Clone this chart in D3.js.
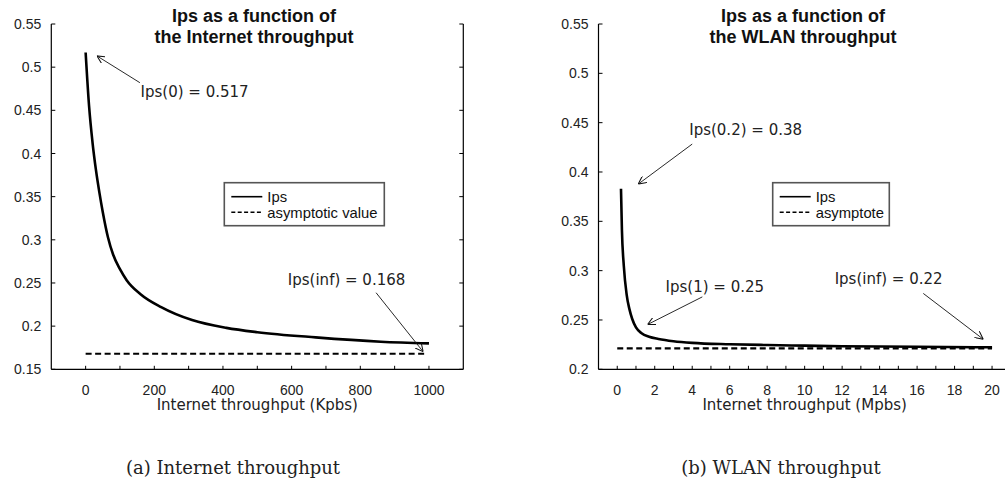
<!DOCTYPE html>
<html>
<head>
<meta charset="utf-8">
<script src="https://cdn.jsdelivr.net/npm/d3@7"></script>
<style>
  body { margin: 0; background: #fff; }
  svg { display: block; }
</style>
</head>
<body>
<div id="chart"></div>
<script>
// Width and height
const WIDTH = 1005;
const HEIGHT = 482;

// Data: (a) Internet throughput, Kbps
const internetX = [0, 10, 20, 30, 40, 50, 65, 80, 100, 120, 160, 220, 310, 410, 500, 670, 860, 1000];
const internetIps = [0.517, 0.455, 0.413, 0.381, 0.355, 0.332, 0.303, 0.283, 0.266, 0.253, 0.237, 0.222, 0.207, 0.198, 0.193, 0.187, 0.182, 0.18];
const internetAsymptote = 0.168;
const internetAsymX = [0, 990];

// (b) WLAN throughput, Mbps
const wlanX = [0.2, 0.25, 0.35, 0.5, 0.65, 0.8, 1.0, 1.3, 1.7, 2.2, 3, 4, 6, 8, 10, 12, 16, 20];
const wlanIps = [0.383, 0.341, 0.305, 0.276, 0.261, 0.251, 0.2425, 0.2365, 0.233, 0.2308, 0.2285, 0.2268, 0.2254, 0.2246, 0.224, 0.2234, 0.2228, 0.2223];
const wlanAsymptote = 0.2213;
const wlanAsymX = [0, 20];

// Tick values
const internetXTicks = d3.range(0, 1001, 100);
const internetXLabels = [0, 200, 400, 600, 800, 1000];
const internetYTicks = [0.15, 0.2, 0.25, 0.3, 0.35, 0.4, 0.45, 0.5, 0.55];
const wlanXTicks = d3.range(0, 21, 1);
const wlanXLabels = [0, 2, 4, 6, 8, 10, 12, 14, 16, 18, 20];
const wlanYTicks = [0.2, 0.25, 0.3, 0.35, 0.4, 0.45, 0.5, 0.55];

// Annotations (data units): text anchor, arrow from, arrow to
const internetNotes = [
  { text: "Ips(0) = 0.517", tx: 160, ty: 0.466, x1: 158, y1: 0.482, x2: 33, y2: 0.513 },
  { text: "Ips(inf) = 0.168", tx: 589, ty: 0.248, x1: 846, y1: 0.2387, x2: 983, y2: 0.1704 }
];
const wlanNotes = [
  { text: "Ips(0.2) = 0.38", tx: 3.84, ty: 0.4374, x1: 4.0, y1: 0.4283, x2: 1.12, y2: 0.3877 },
  { text: "Ips(1) = 0.25", tx: 2.58, ty: 0.2779, x1: 4.54, y1: 0.2734, x2: 1.62, y2: 0.2454 },
  { text: "Ips(inf) = 0.22", tx: 11.6, ty: 0.286, x1: 16.33, y1: 0.2769, x2: 19.53, y2: 0.2305 }
];

const panels = [
  {
    title: ["Ips as a function of", "the Internet throughput"],
    xLabel: "Internet throughput (Kpbs)",
    caption: "(a) Internet throughput",
    xDomain: [-100, 1100], xRange: [51.3, 463.3],
    yDomain: [0.15, 0.55],
    xs: internetX, ys: internetIps,
    asym: internetAsymptote, asymX: internetAsymX,
    xTicks: internetXTicks, xLabels: internetXLabels, yTicks: internetYTicks,
    yFmt: d3.format("~g"),
    notes: internetNotes,
    rightAxis: true,
    legend: { x: 224.3, y: 182.7, w: 160, h: 43, labels: ["Ips", "asymptotic value"] },
    titleX: 254, captionX: 233
  },
  {
    title: ["Ips as a function of", "the WLAN throughput"],
    xLabel: "Internet throughput (Mpbs)",
    caption: "(b) WLAN throughput",
    xDomain: [-1, 21], xRange: [598.5, 1010.8],
    yDomain: [0.2, 0.55],
    xs: wlanX, ys: wlanIps,
    asym: wlanAsymptote, asymX: wlanAsymX,
    xTicks: wlanXTicks, xLabels: wlanXLabels, yTicks: wlanYTicks,
    yFmt: d3.format("~g"),
    notes: wlanNotes,
    rightAxis: false,
    legend: { x: 772.7, y: 182.7, w: 116.6, h: 43, labels: ["Ips", "asymptote"] },
    titleX: 803, captionX: 781
  }
];

const TOP = 24;
const BOTTOM = 369.3;
const SANS = "'Liberation Sans', Arial, Helvetica, sans-serif";
const DEJAVU = "'DejaVu Sans', Verdana, sans-serif";

// SVG
const svg = d3
  .select("#chart")
  .append("svg")
  .attr("width", WIDTH)
  .attr("height", HEIGHT);

svg.append("defs")
  .append("marker")
  .attr("id", "arrow")
  .attr("viewBox", "0 0 10 10")
  .attr("refX", 10)
  .attr("refY", 5)
  .attr("markerWidth", 8)
  .attr("markerHeight", 8)
  .attr("markerUnits", "userSpaceOnUse")
  .attr("orient", "auto")
  .append("path")
  .attr("d", "M0,0 L10,5 L0,10")
  .attr("fill", "none")
  .attr("stroke", "#111")
  .attr("stroke-width", 1.3);

panels.forEach((p) => {
  const x = d3.scaleLinear().domain(p.xDomain).range(p.xRange);
  const y = d3.scaleLinear().domain(p.yDomain).range([BOTTOM, TOP]);
  const g = svg.append("g");
  const x0 = p.xRange[0];
  const x1 = p.xRange[1];

  // Axis lines
  g.append("line")
    .attr("x1", x0).attr("x2", x0).attr("y1", TOP).attr("y2", BOTTOM)
    .attr("stroke", "#000").attr("stroke-width", 1.2);
  g.append("line")
    .attr("x1", x0).attr("x2", x1).attr("y1", BOTTOM).attr("y2", BOTTOM)
    .attr("stroke", "#000").attr("stroke-width", 1.2);
  if (p.rightAxis) {
    g.append("line")
      .attr("x1", x1).attr("x2", x1).attr("y1", TOP).attr("y2", BOTTOM)
      .attr("stroke", "#000").attr("stroke-width", 1.2);
  }

  // Y ticks (inward) and labels
  g.selectAll(".yt")
    .data(p.yTicks)
    .enter()
    .append("line")
    .attr("x1", x0).attr("x2", x0 + 4)
    .attr("y1", (d) => y(d)).attr("y2", (d) => y(d))
    .attr("stroke", "#000");
  if (p.rightAxis) {
    g.selectAll(".yr")
      .data(p.yTicks)
      .enter()
      .append("line")
      .attr("x1", x1).attr("x2", x1 - 4)
      .attr("y1", (d) => y(d)).attr("y2", (d) => y(d))
      .attr("stroke", "#000");
  }
  g.selectAll(".yl")
    .data(p.yTicks)
    .enter()
    .append("text")
    .attr("x", x0 - 10)
    .attr("y", (d) => y(d))
    .attr("dy", "0.36em")
    .attr("text-anchor", "end")
    .style("font-family", SANS)
    .style("font-size", "14px")
    .attr("fill", "#222")
    .text((d) => p.yFmt(d));

  // X ticks (inward) and labels
  g.selectAll(".xt")
    .data(p.xTicks)
    .enter()
    .append("line")
    .attr("x1", (d) => x(d)).attr("x2", (d) => x(d))
    .attr("y1", BOTTOM).attr("y2", BOTTOM - 3.5)
    .attr("stroke", "#000");
  g.selectAll(".xl")
    .data(p.xLabels)
    .enter()
    .append("text")
    .attr("x", (d) => x(d))
    .attr("y", 395)
    .attr("text-anchor", "middle")
    .style("font-family", SANS)
    .style("font-size", "14px")
    .attr("fill", "#222")
    .text((d) => d);

  // Axis label
  g.append("text")
    .attr("x", (x(p.xLabels[0]) + x(p.xLabels[p.xLabels.length - 1])) / 2)
    .attr("y", 410)
    .attr("text-anchor", "middle")
    .style("font-family", DEJAVU)
    .style("font-size", "15px")
    .attr("fill", "#222")
    .text(p.xLabel);

  // Title
  g.selectAll(".title")
    .data(p.title)
    .enter()
    .append("text")
    .attr("x", p.titleX)
    .attr("y", (d, i) => 21.5 + i * 21)
    .attr("text-anchor", "middle")
    .style("font-family", SANS)
    .style("font-size", "18px")
    .style("font-weight", "bold")
    .attr("fill", "#111")
    .text((d) => d);

  // Asymptote
  g.append("line")
    .attr("x1", x(p.asymX[0])).attr("x2", x(p.asymX[1]))
    .attr("y1", y(p.asym)).attr("y2", y(p.asym))
    .attr("stroke", "#000")
    .attr("stroke-width", 2.2)
    .attr("stroke-dasharray", "6,3.5");

  // Ips curve
  const line = d3
    .line()
    .x((d, i) => x(p.xs[i]))
    .y((d) => y(d))
    .curve(d3.curveMonotoneX);
  g.append("path")
    .datum(p.ys)
    .attr("d", line)
    .attr("fill", "none")
    .attr("stroke", "#000")
    .attr("stroke-width", 2.6);

  // Annotations
  p.notes.forEach((n) => {
    g.append("line")
      .attr("x1", x(n.x1)).attr("y1", y(n.y1))
      .attr("x2", x(n.x2)).attr("y2", y(n.y2))
      .attr("stroke", "#111")
      .attr("stroke-width", 0.9)
      .attr("marker-end", "url(#arrow)");
    g.append("text")
      .attr("x", x(n.tx))
      .attr("y", y(n.ty))
      .style("font-family", DEJAVU)
      .style("font-size", "15px")
      .attr("fill", "#222")
      .text(n.text);
  });

  // Legend
  const L = p.legend;
  const leg = g.append("g").attr("transform", "translate(" + L.x + "," + L.y + ")");
  leg.append("rect")
    .attr("width", L.w).attr("height", L.h)
    .attr("fill", "#fff")
    .attr("stroke", "#555")
    .attr("stroke-width", 1.6);
  L.labels.forEach((lab, i) => {
    const ly = 14 + i * 15.6;
    leg.append("line")
      .attr("x1", 7).attr("x2", 38)
      .attr("y1", ly).attr("y2", ly)
      .attr("stroke", "#000")
      .attr("stroke-width", 1.6)
      .attr("stroke-dasharray", i === 1 ? "4,2.4" : null);
    leg.append("text")
      .attr("x", 43)
      .attr("y", ly)
      .attr("dy", "0.36em")
      .style("font-family", SANS)
      .style("font-size", "14.8px")
      .attr("fill", "#111")
      .text(lab);
  });

  // Caption
  g.append("text")
    .attr("x", p.captionX)
    .attr("y", 474)
    .attr("text-anchor", "middle")
    .style("font-family", "'DejaVu Serif', 'Liberation Serif', serif")
    .style("font-size", "18px")
    .attr("fill", "#222")
    .text(p.caption);
});
</script>
</body>
</html>
